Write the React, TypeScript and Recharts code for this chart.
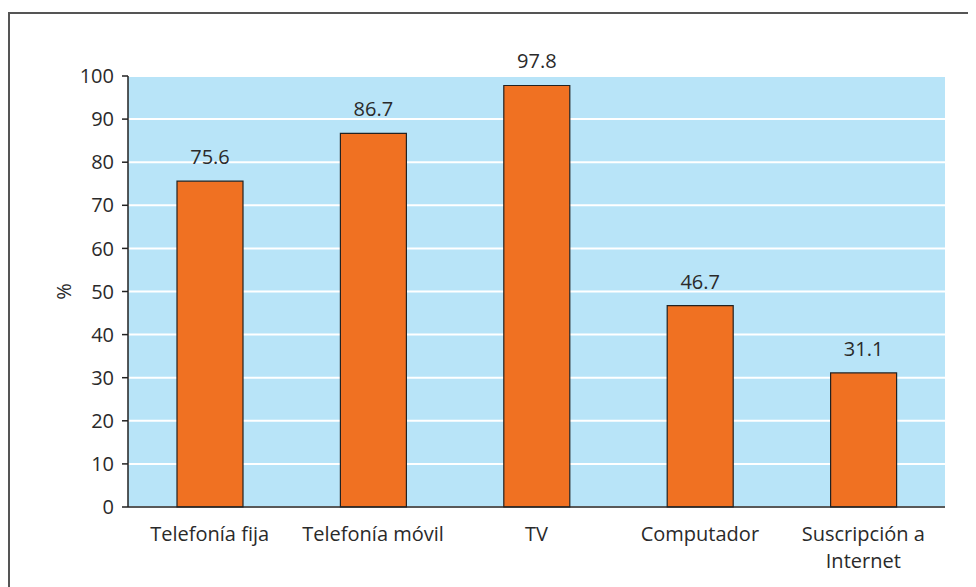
import { BarChart, Bar, XAxis, YAxis, CartesianGrid, LabelList, Text } from 'recharts'

const categories = ['Telefonía fija', 'Telefonía móvil', 'TV', 'Computador', 'Suscripción a Internet']
const values = [75.6, 86.7, 97.8, 46.7, 31.1]
const yTicks = [0, 10, 20, 30, 40, 50, 60, 70, 80, 90, 100]
const boundaryTicks = [0, 1, 2, 3, 4, 5]

const data = categories.map((name, i) => ({ name, value: values[i] }))

const FONT = '"Open Sans", sans-serif'
const TEXT = '#2a2a2a'
const SIZE = 20

function CategoryTick(props: any) {
  const { x, y, payload } = props
  return (
    <Text
      x={x}
      y={y + 12}
      width={160}
      textAnchor="middle"
      verticalAnchor="start"
      lineHeight={27}
      style={{ fontSize: SIZE, fill: TEXT, fontFamily: FONT }}
    >
      {payload.value}
    </Text>
  )
}

export default function App() {
  return (
    <div
      style={{
        position: 'relative',
        marginTop: 4,
        width: 968,
        height: 575,
        borderTop: '2px solid #555',
        borderLeft: '2px solid #555',
        boxSizing: 'border-box',
        fontFamily: FONT,
      }}
    >
      <BarChart
        width={958}
        height={560}
        data={data}
        margin={{ top: 62, right: 23, left: 58, bottom: 7 }}
      >
        <CartesianGrid fill="#b8e4f8" stroke="#ffffff" strokeWidth={2} vertical={false} />
        <XAxis
          xAxisId="edges"
          type="number"
          domain={[0, 5]}
          ticks={boundaryTicks}
          tick={false}
          tickLine={{ stroke: '#222', strokeWidth: 1.5 }}
          tickSize={6}
          axisLine={false}
          height={0}
        />
        <XAxis
          dataKey="name"
          interval={0}
          tickLine={false}
          axisLine={{ stroke: '#222', strokeWidth: 1.5 }}
          tick={<CategoryTick />}
          height={60}
        />
        <XAxis
          xAxisId="top"
          dataKey="name"
          orientation="top"
          tick={false}
          tickLine={false}
          axisLine={{ stroke: '#222', strokeWidth: 1.5 }}
          height={0}
        />
        <YAxis
          domain={[0, 100]}
          ticks={yTicks}
          interval={0}
          tickSize={6}
          tickMargin={8}
          tickLine={{ stroke: '#222', strokeWidth: 1.5 }}
          axisLine={{ stroke: '#222', strokeWidth: 1.5 }}
          tick={{ fontSize: SIZE, fill: TEXT, fontFamily: FONT }}
          width={60}
          label={{
            value: '%',
            angle: -90,
            position: 'insideLeft',
            offset: -4,
            style: { fontSize: SIZE, fill: TEXT, fontFamily: FONT, textAnchor: 'middle' },
          }}
        />
        <YAxis
          yAxisId="right"
          orientation="right"
          domain={[0, 100]}
          tick={false}
          tickLine={false}
          axisLine={{ stroke: '#222', strokeWidth: 1.5 }}
          width={0}
        />
        <Bar
          dataKey="value"
          fill="#f07122"
          stroke="#222"
          strokeWidth={1.2}
          barSize={66}
          isAnimationActive={false}
        >
          <LabelList
            dataKey="value"
            position="top"
            offset={17}
            style={{ fontSize: SIZE, fill: TEXT, fontFamily: FONT }}
          />
        </Bar>
      </BarChart>
    </div>
  )
}
